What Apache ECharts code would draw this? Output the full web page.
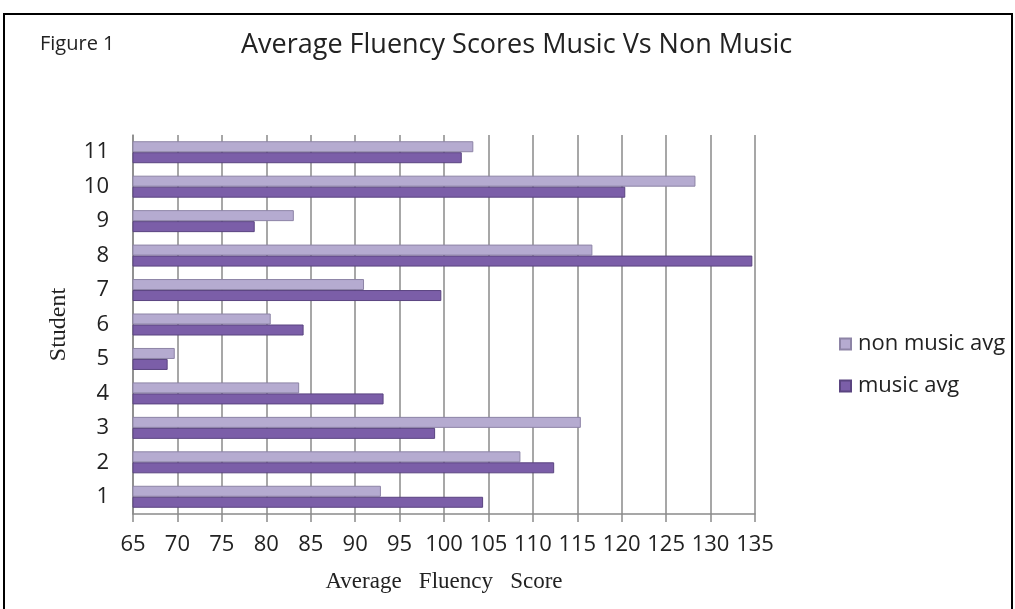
<!DOCTYPE html>
<html>
<head>
<meta charset="utf-8">
<script src="https://cdn.jsdelivr.net/npm/echarts@6/dist/echarts.min.js"></script>
<style>
html,body{margin:0;padding:0;background:#fff;}
#chart{width:1015px;height:609px;}
</style>
</head>
<body>
<div id="chart"></div>
<script>
const students = ['1','2','3','4','5','6','7','8','9','10','11'];
const nonMusicAvg = [92.9, 108.6, 115.4, 83.7, 69.7, 80.5, 91.0, 116.7, 83.1, 128.3, 103.3];
const musicAvg = [104.4, 112.4, 99.0, 93.2, 68.9, 84.2, 99.7, 134.7, 78.7, 120.4, 102.0];
const xTicks = {min: 65, max: 135, interval: 5};

const chart = echarts.init(document.getElementById('chart'));
const sans = '"Open Sans", "Noto Sans", sans-serif';
const serif = '"Liberation Serif", "DejaVu Serif", serif';
chart.setOption({
  animation: false,
  backgroundColor: '#ffffff',
  graphic: [
    {type: 'rect', shape: {x: 4, y: 14, width: 1008, height: 620}, style: {fill: 'none', stroke: '#000', lineWidth: 2}, silent: true},
    {type: 'text', left: 40, top: 34, style: {text: 'Figure 1', font: '20px ' + sans, fill: '#222'}}
  ],
  title: {
    text: 'Average Fluency Scores Music Vs Non Music',
    left: 236, top: 27,
    textStyle: {fontFamily: sans, fontSize: 27, fontWeight: 'normal', color: '#222'}
  },
  legend: {
    orient: 'vertical',
    left: 834, top: 328,
    itemWidth: 11, itemHeight: 11, itemGap: 20,
    icon: 'rect',
    data: ['non music avg', 'music avg'],
    textStyle: {fontFamily: sans, fontSize: 22, color: '#222', padding: [0, 0, 0, 2]}
  },
  grid: {left: 133, right: 260, top: 135, bottom: 95, containLabel: false},
  xAxis: {
    type: 'value',
    min: xTicks.min, max: xTicks.max, interval: xTicks.interval,
    name: 'Average   Fluency   Score',
    nameLocation: 'middle', nameGap: 56,
    nameTextStyle: {fontFamily: serif, fontSize: 23, color: '#222'},
    axisLine: {show: true, lineStyle: {color: '#8a8a8a', width: 1.5}},
    axisTick: {show: true, length: 8, lineStyle: {color: '#8a8a8a', width: 1.5}},
    axisLabel: {fontFamily: sans, fontSize: 22, color: '#222', margin: 20},
    splitLine: {show: true, lineStyle: {color: '#8a8a8a', width: 1.5}}
  },
  yAxis: {
    type: 'category',
    data: students,
    name: 'Student',
    nameLocation: 'middle', nameGap: 62, nameRotate: 90,
    nameTextStyle: {fontFamily: serif, fontSize: 24, color: '#222'},
    axisLine: {show: true, lineStyle: {color: '#8a8a8a', width: 1.5}},
    axisTick: {show: false},
    axisLabel: {fontFamily: sans, fontSize: 22, color: '#222', margin: 24}
  },
  series: [
    {
      name: 'non music avg', type: 'bar', data: nonMusicAvg,
      barWidth: 11, barGap: '0%',
      itemStyle: {color: '#b5abd0', borderColor: '#8d84a6', borderWidth: 1}
    },
    {
      name: 'music avg', type: 'bar', data: musicAvg,
      barWidth: 11, barGap: '0%',
      itemStyle: {color: '#7b5ea8', borderColor: '#5a4480', borderWidth: 1}
    }
  ]
});
</script>
</body>
</html>
